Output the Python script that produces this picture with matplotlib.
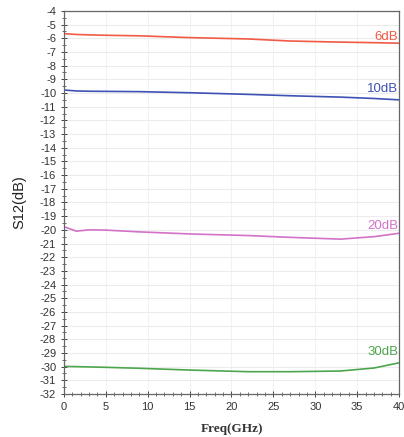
import matplotlib
matplotlib.use("Agg")
import matplotlib.pyplot as plt
from matplotlib.ticker import MultipleLocator

freq = [0, 1.5, 3, 5, 9, 15, 22, 27, 33, 37, 40]
s12_6db = [-5.66, -5.72, -5.75, -5.78, -5.82, -5.95, -6.05, -6.2, -6.28, -6.32, -6.36]
s12_10db = [-9.78, -9.85, -9.87, -9.88, -9.9, -9.98, -10.1, -10.2, -10.3, -10.4, -10.5]
s12_20db = [-19.77, -20.1, -20.0, -20.02, -20.15, -20.3, -20.42, -20.55, -20.68, -20.5, -20.25]
s12_30db = [-29.98, -30.0, -30.02, -30.05, -30.12, -30.25, -30.37, -30.37, -30.32, -30.1, -29.72]
labels = ["6dB", "10dB", "20dB", "30dB"]
label_y = [-5.9, -9.7, -19.7, -28.95]
colors = ["#f25a45", "#3d52b5", "#d272c8", "#4da64d"]

plt.rcParams['font.family'] = ['Liberation Sans', 'DejaVu Sans']
plt.rcParams['axes.unicode_minus'] = False
fig = plt.figure(figsize=(4.04, 4.37), dpi=100)
ax = fig.add_axes([0.158, 0.0984, 0.83, 0.8766])

series = [s12_6db, s12_10db, s12_20db, s12_30db]
for ys, c, lab, ly in zip(series, colors, labels, label_y):
    ax.plot(freq, ys, color=c, lw=1.2)
    ax.text(39.9, ly, lab, color=c, fontsize=9.5, ha='right', va='center')

ax.set_xlim(0, 40)
ax.set_ylim(-32, -4)
ax.xaxis.set_major_locator(MultipleLocator(5))
ax.xaxis.set_minor_locator(MultipleLocator(1))
ax.yaxis.set_major_locator(MultipleLocator(1))
ax.yaxis.set_minor_locator(MultipleLocator(0.5))
ax.grid(True, axis='y', which='major', color='#ececec', lw=0.8)
ax.grid(True, axis='x', which='major', color='#f2f2f2', lw=0.8)
ax.tick_params(axis='both', which='major', labelsize=8, direction='inout', length=4, width=0.7, colors='#444444', labelcolor='#333333')
ax.tick_params(axis='both', which='minor', direction='inout', length=2.5, width=0.6, colors='#555555')
ax.tick_params(top=False, right=False, which='both')
for s in ax.spines.values():
    s.set_color('#666666')
    s.set_linewidth(0.9)

ax.set_ylabel("S12(dB)", fontsize=10.5, color='#222222', labelpad=10)
ax.set_xlabel("Freq(GHz)", fontsize=9.5, fontweight='bold', family=['Liberation Serif'], color='#333333', labelpad=8)

fig.savefig("out.png", dpi=100)
